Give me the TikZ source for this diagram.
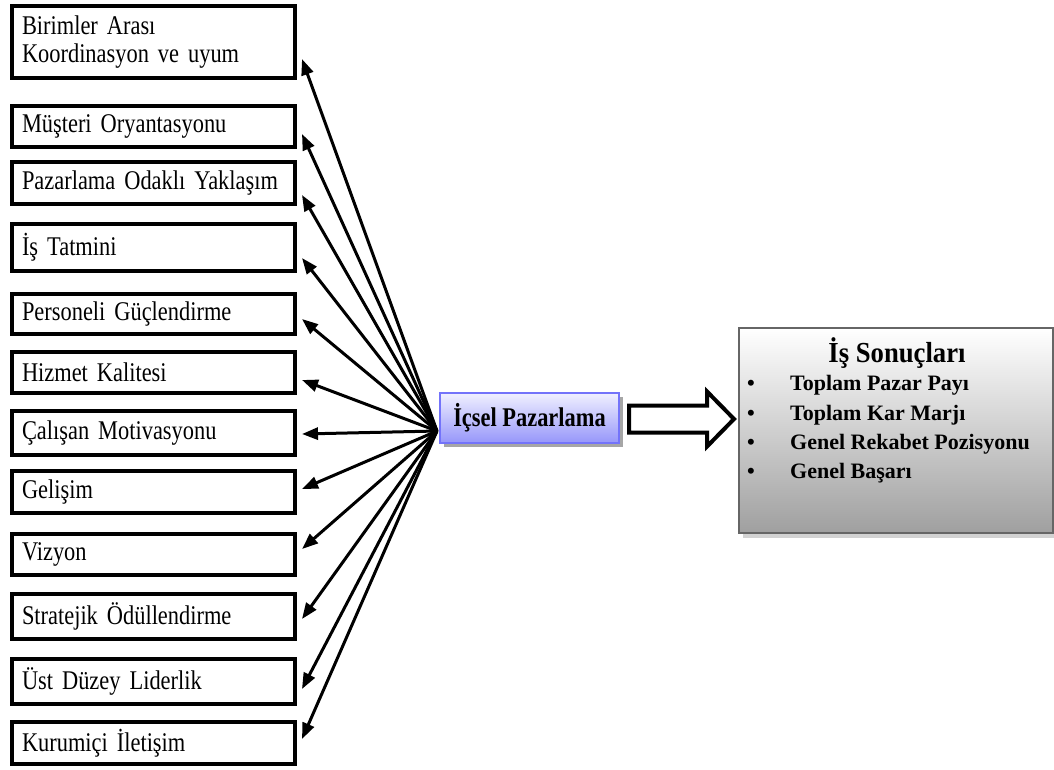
\documentclass[tikz,border=0pt]{standalone}
\usepackage{fontspec}
\setmainfont{Liberation Serif}[FakeStretch=0.83]
\newfontfamily\resultfont{Liberation Serif}
\newfontfamily\titlefont{Liberation Serif}[FakeStretch=0.92]
\usetikzlibrary{arrows.meta,shadows,shadings}
% word spacing scaled to the narrowed glyphs
\newcommand{\narrowspace}{\spaceskip=5.6pt plus 2pt minus 1.5pt\relax}

\begin{document}
\begin{tikzpicture}[x=1pt,y=-1pt,
  leftbox/.style={draw=black, line width=4pt, fill=white, anchor=north west,
    minimum width=283pt, text width=263pt, inner xsep=10pt, inner ysep=0pt,
    align=left, font=\fontsize{27}{28}\selectfont\narrowspace},
  conn/.style={line width=3pt, -{Triangle[length=16pt,width=12pt]}},
  corebox/.style={draw={rgb,255:red,115;green,115;blue,250}, line width=2pt,
    top color={rgb,255:red,240;green,240;blue,255},
    bottom color={rgb,255:red,150;green,150;blue,250},
    drop shadow={shadow xshift=4pt, shadow yshift=-4pt, fill=gray!70, opacity=1},
    anchor=north west, minimum width=179pt, minimum height=50pt,
    font=\fontsize{27}{28}\selectfont\bfseries\narrowspace},
  resultbox/.style={draw=gray!80!black, line width=2pt,
    top color=white, bottom color=gray!75,
    drop shadow={shadow xshift=4pt, shadow yshift=-5pt, fill=gray!35, opacity=1},
    anchor=north west, minimum width=314pt, minimum height=205pt},
  item/.style={anchor=base west, inner sep=0pt, font=\resultfont\fontsize{22}{26}\selectfont\bfseries},
  blockarrow/.style={draw=black, line width=4pt, fill=white, line join=miter}
]
\useasboundingbox (0,0) rectangle (1054,769);

% factor boxes on the left
\node[leftbox, minimum height=72pt] (b1) at (10,4) {Birimler Arası\\Koordinasyon ve uyum};
\node[leftbox, minimum height=41pt] (b2) at (10,104) {Müşteri Oryantasyonu};
\node[leftbox, minimum height=42pt] (b3) at (10,160) {Pazarlama Odaklı Yaklaşım};
\node[leftbox, minimum height=47pt] (b4) at (10,222) {İş Tatmini};
\node[leftbox, minimum height=40pt] (b5) at (10,292) {Personeli Güçlendirme};
\node[leftbox, minimum height=41pt] (b6) at (10,350) {Hizmet Kalitesi};
\node[leftbox, minimum height=44pt] (b7) at (10,409) {Çalışan Motivasyonu};
\node[leftbox, minimum height=42pt] (b8) at (10,469) {Gelişim};
\node[leftbox, minimum height=41pt] (b9) at (10,532) {Vizyon};
\node[leftbox, minimum height=45pt] (b10) at (10,592) {Stratejik Ödüllendirme};
\node[leftbox, minimum height=45pt] (b11) at (10,657) {Üst Düzey Liderlik};
\node[leftbox, minimum height=42pt] (b12) at (10,720) {Kurumiçi İletişim};

% central concept
\node[corebox] (cp) at (439,392) {İçsel Pazarlama};
\coordinate (hub) at ([xshift=-2pt,yshift=-13pt]cp.west);

% connectors from the central concept to each factor
\foreach \b/\dy in {b1/17, b2/7.5, b3/12, b4/10.5, b5/5, b6/7.5,
                    b7/1, b8/-3, b9/-5.5, b10/2.5, b11/7.5, b12/-4} {
  \draw[conn] (hub) -- ([xshift=5pt,yshift=-\dy pt]\b.east);
}

% outcomes box
\node[resultbox] (res) at (738,327) {};
\node[anchor=base, inner sep=0pt, font=\titlefont\fontsize{29}{30}\selectfont\bfseries]
  (restitle) at (897,362) {İş Sonuçları};
\node[item] (r1) at (747,390) {\makebox[43pt][l]{\textbullet}Toplam Pazar Payı};
\node[item] (r2) at (747,420) {\makebox[43pt][l]{\textbullet}Toplam Kar Marjı};
\node[item] (r3) at (747,449) {\makebox[43pt][l]{\textbullet}Genel Rekabet Pozisyonu};
\node[item] (r4) at (747,478) {\makebox[43pt][l]{\textbullet}Genel Başarı};

% hollow block arrow between the central concept and the outcomes
\coordinate (ba) at ([xshift=9pt,yshift=-1pt]cp.east);
\draw[blockarrow] (ba) ++(0,-13.5) -- ++(78,0) -- ++(0,-14) -- ++(27,27.5)
  -- ++(-27,27.5) -- ++(0,-14) -- ++(-78,0) -- cycle;
\end{tikzpicture}
\end{document}
